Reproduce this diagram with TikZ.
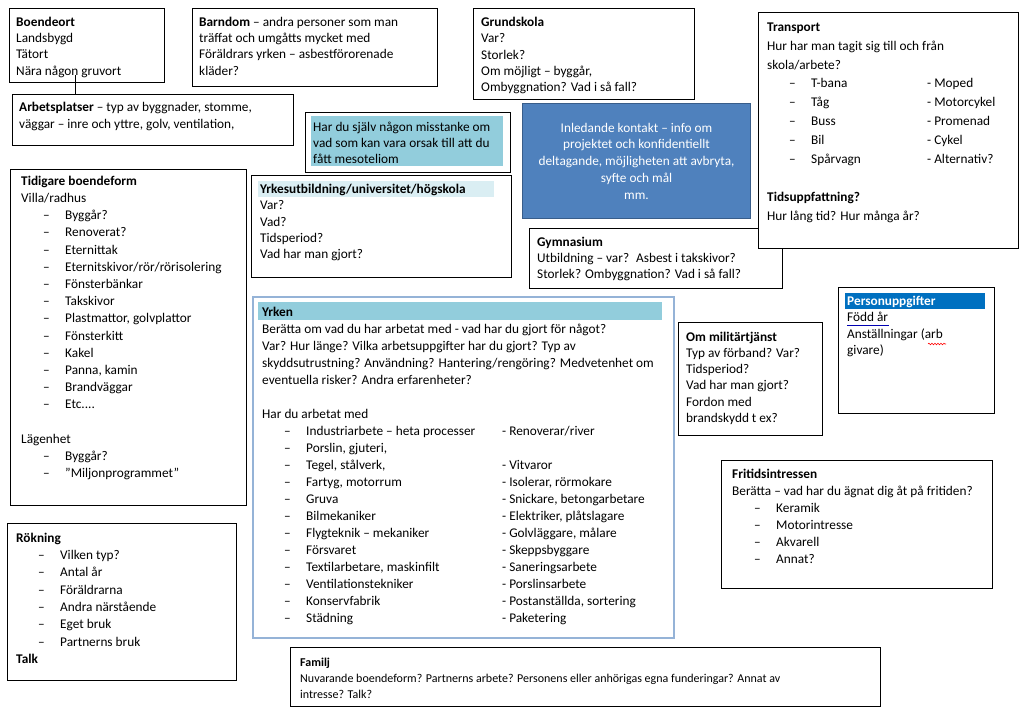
\documentclass[tikz,border=0pt]{standalone}
\usepackage{fontspec}
\setmainfont{Carlito}
\usetikzlibrary{positioning, decorations.pathmorphing}

\definecolor{inlblue}{HTML}{4F81BD}
\definecolor{inlborder}{HTML}{385D8A}
\definecolor{aqua}{HTML}{92CDDC}
\definecolor{paleaqua}{HTML}{DAEEF3}
\definecolor{persblue}{HTML}{0070C0}
\definecolor{yrkenframe}{HTML}{95B3D7}

% first line strut, dash items
\newcommand{\fl}{\rule{0pt}{12pt}}
\newcommand{\dl}[1]{\hspace*{22pt}\makebox[22pt][l]{–}#1}
\newcommand{\dll}[3]{\hspace*{22pt}\makebox[22pt][l]{–}\makebox[#1][l]{#2}#3}

\tikzset{
  box/.style={draw=black, line width=1pt, fill=white, anchor=north west, inner sep=0pt},
  txt/.style={anchor=north west, inner sep=0pt, align=left, font=\fontsize{13.3}{17}\selectfont},
  tight/.style={txt, font=\fontsize{13.3}{16.4}\selectfont},
}

\begin{document}
\begin{tikzpicture}[x=1pt, y=-1pt]
  \useasboundingbox (0,0) rectangle (1024,709);
  \fill[white] (0,0) rectangle (1024,709);

  % Boendeort
  \node[box, minimum width=155pt, minimum height=74pt] (boendeort) at (9,8) {};
  \node[tight] at (16,14) {\fl\textbf{Boendeort}\\Landsbygd\\Tätort\\Nära någon gruvort};

  % Barndom
  \node[box, minimum width=245pt, minimum height=78pt] (barndom) at (192,8) {};
  \node[tight] at (199,14) {\fl\textbf{Barndom} – andra personer som man\\träffat och umgåtts mycket med\\Föräldrars yrken – asbestförorenade\\kläder?};

  % Grundskola
  \node[box, minimum width=221pt, minimum height=91pt] (grundskola) at (473,8) {};
  \node[tight] at (481,14) {\fl\textbf{Grundskola}\\Var?\\Storlek?\\Om möjligt – byggår,\\Ombyggnation? Vad i så fall?};

  % Arbetsplatser
  \node[box, minimum width=281pt, minimum height=51pt] (arbets) at (12,94) {};
  \node[txt] at (19,99) {\fl\textbf{Arbetsplatser} – typ av byggnader, stomme,\\väggar – inre och yttre, golv, ventilation,};
  \coordinate (gruvort) at (75,75);
  \draw[line width=1pt] (gruvort) -- (gruvort |- arbets.north);

  % Misstanke
  \node[box, minimum width=205pt, minimum height=60pt] (misstanke) at (305,112) {};
  \fill[aqua] (311,116) rectangle (503,166);
  \node[txt, font=\fontsize{13.3}{16}\selectfont] at (313,119) {\fl Har du själv någon misstanke om\\vad som kan vara orsak till att du\\fått mesoteliom};

  % Inledande kontakt
  \node[box, fill=inlblue, draw=inlborder, text=white, align=center, font=\fontsize{13.3}{16.75}\selectfont,
        minimum width=228pt, minimum height=115pt] (inledande) at (522,103)
        {Inledande kontakt – info om\\projektet och konfidentiellt\\deltagande, möjligheten att avbryta,\\syfte och mål\\mm.};

  % Tidigare boendeform
  \node[box, minimum width=236pt, minimum height=336pt] (tidigare) at (10,169) {};
  \node[txt, font=\fontsize{13.3}{17.2}\selectfont] at (21,173) {\fl\textbf{Tidigare boendeform}\\Villa/radhus\\
    \dl{Byggår?}\\\dl{Renoverat?}\\\dl{Eternittak}\\\dl{Eternitskivor/rör/rörisolering}\\
    \dl{Fönsterbänkar}\\\dl{Takskivor}\\\dl{Plastmattor, golvplattor}\\\dl{Fönsterkitt}\\
    \dl{Kakel}\\\dl{Panna, kamin}\\\dl{Brandväggar}\\\dl{Etc....}\\{}\\
    Lägenhet\\\dl{Byggår?}\\\dl{”Miljonprogrammet”}};

  % Yrkesutbildning
  \node[box, minimum width=260pt, minimum height=102pt] (yrkesutb) at (251,175) {};
  \fill[paleaqua] (258,181) rectangle (494,197);
  \node[tight] at (260,181) {\fl\textbf{Yrkesutbildning/universitet/högskola}\\Var?\\Vad?\\Tidsperiod?\\Vad har man gjort?};

  % Gymnasium
  \node[box, minimum width=253pt, minimum height=60pt] (gymnasium) at (529,228) {};
  \node[txt, font=\fontsize{13.3}{16}\selectfont] at (537,234) {\fl\textbf{Gymnasium}\\Utbildning – var?~ Asbest i takskivor?\\Storlek? Ombyggnation? Vad i så fall?};

  % Transport
  \node[box, minimum width=260pt, minimum height=236pt] (transport) at (758,12) {};
  \node[txt, font=\fontsize{13.3}{18.9}\selectfont] at (767,19) {\fl\textbf{Transport}\\Hur har man tagit sig till och från\\skola/arbete?\\
    \dll{116pt}{T-bana}{- Moped}\\\dll{116pt}{Tåg}{- Motorcykel}\\\dll{116pt}{Buss}{- Promenad}\\
    \dll{116pt}{Bil}{- Cykel}\\\dll{116pt}{Spårvagn}{- Alternativ?}\\{}\\
    \textbf{Tidsuppfattning?}\\Hur lång tid? Hur många år?};

  % Yrken
  \node[box, draw=yrkenframe, line width=2pt, minimum width=421pt, minimum height=341pt] (yrken) at (252,296) {};
  \fill[aqua] (258,302) rectangle (662,320);
  \node[txt] at (262,304) {\fl\textbf{Yrken}\\
    Berätta om vad du har arbetat med - vad har du gjort för något?\\
    Var? Hur länge? Vilka arbetsuppgifter har du gjort? Typ av\\
    skyddsutrustning? Användning? Hantering/rengöring? Medvetenhet om\\
    eventuella risker? Andra erfarenheter?\\{}\\
    Har du arbetat med\\
    \dll{196pt}{Industriarbete – heta processer}{- Renoverar/river}\\
    \dl{Porslin, gjuteri,}\\
    \dll{196pt}{Tegel, stålverk,}{- Vitvaror}\\
    \dll{196pt}{Fartyg, motorrum}{- Isolerar, rörmokare}\\
    \dll{196pt}{Gruva}{- Snickare, betongarbetare}\\
    \dll{196pt}{Bilmekaniker}{- Elektriker, plåtslagare}\\
    \dll{196pt}{Flygteknik – mekaniker}{- Golvläggare, målare}\\
    \dll{196pt}{Försvaret}{- Skeppsbyggare}\\
    \dll{196pt}{Textilarbetare, maskinfilt}{- Saneringsarbete}\\
    \dll{196pt}{Ventilationstekniker}{- Porslinsarbete}\\
    \dll{196pt}{Konservfabrik}{- Postanställda, sortering}\\
    \dll{196pt}{Städning}{- Paketering}};

  % Om militartjanst
  \node[box, minimum width=144pt, minimum height=113pt] (militar) at (678,322) {};
  \node[txt, font=\fontsize{13.3}{16.2}\selectfont] at (686,329) {\fl\textbf{Om militärtjänst}\\Typ av förband? Var?\\Tidsperiod?\\Vad har man gjort?\\Fordon med\\brandskydd t ex?};

  % Personuppgifter
  \node[box, minimum width=156pt, minimum height=126pt] (person) at (838,287) {};
  \fill[persblue] (845,293) rectangle (985,309);
  \node[tight] at (847,293) {\fl\textcolor{white}{\textbf{Personuppgifter}}\\Född år\\Anställningar (arb\\givare)};
  \draw[blue!70!black, line width=0.8pt] (847,325.5) -- (889,325.5);
  \draw[red, line width=0.6pt, decorate, decoration={snake, amplitude=0.8pt, segment length=3pt}] (928,344) -- (946,344);

  % Fritidsintressen
  \node[box, minimum width=271pt, minimum height=128pt] (fritid) at (721,460) {};
  \node[txt] at (732,466) {\fl\textbf{Fritidsintressen}\\Berätta – vad har du ägnat dig åt på fritiden?\\
    \dl{Keramik}\\\dl{Motorintresse}\\\dl{Akvarell}\\\dl{Annat?}};

  % Rokning
  \node[box, minimum width=229pt, minimum height=157pt] (rokning) at (7,523) {};
  \node[txt, font=\fontsize{13.3}{17.3}\selectfont] at (16,530) {\fl\textbf{Rökning}\\
    \dl{Vilken typ?}\\\dl{Antal år}\\\dl{Föräldrarna}\\\dl{Andra närstående}\\\dl{Eget bruk}\\\dl{Partnerns bruk}\\
    \textbf{Talk}};

  % Familj
  \node[box, minimum width=590pt, minimum height=59pt] (familj) at (290,647) {};
  \node[txt, font=\fontsize{12}{16}\selectfont] at (300,654) {\fl\textbf{Familj}\\Nuvarande boendeform? Partnerns arbete? Personens eller anhörigas egna funderingar? Annat av\\intresse? Talk?};
\end{tikzpicture}
\end{document}
